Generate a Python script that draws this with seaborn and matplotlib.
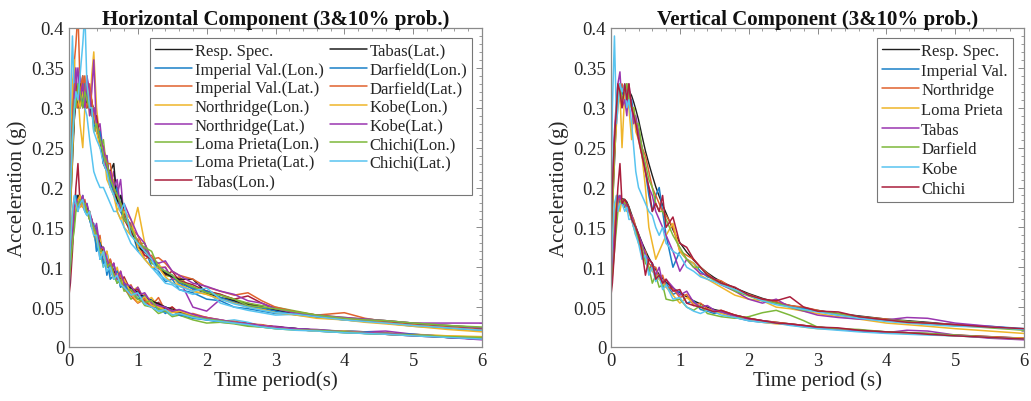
import matplotlib
matplotlib.use("Agg")
import matplotlib.pyplot as plt
from matplotlib.ticker import MultipleLocator
import seaborn as sns

# ---------------- data ----------------
periods = [0, 0.02, 0.05, 0.08, 0.1, 0.13, 0.16, 0.2, 0.23, 0.26, 0.3, 0.33, 0.36, 0.4, 0.45,
           0.5, 0.55, 0.6, 0.65, 0.7, 0.75, 0.8, 0.9, 1.0, 1.1, 1.2, 1.3, 1.4, 1.5, 1.6,
           1.8, 2.0, 2.2, 2.4, 2.6, 2.8, 3.0, 3.3, 3.6, 4.0, 4.3, 4.6, 5.0, 5.5, 6.0]

resp_3 = [0.13, 0.17, 0.23, 0.29, 0.315, 0.325, 0.325, 0.325, 0.325, 0.322, 0.315, 0.307, 0.298, 0.285, 0.265,
          0.246, 0.23, 0.215, 0.201, 0.189, 0.178, 0.168, 0.147, 0.131, 0.119, 0.109, 0.1, 0.093, 0.087, 0.082,
          0.074, 0.067, 0.061, 0.056, 0.052, 0.049, 0.046, 0.042, 0.039, 0.035, 0.033, 0.031, 0.028, 0.025, 0.022]
resp_10 = [0.07, 0.1, 0.14, 0.172, 0.183, 0.186, 0.186, 0.185, 0.182, 0.176, 0.166, 0.158, 0.151, 0.142, 0.131,
           0.121, 0.112, 0.104, 0.097, 0.091, 0.086, 0.081, 0.074, 0.068, 0.063, 0.058, 0.054, 0.05, 0.047, 0.045,
           0.04, 0.036, 0.033, 0.031, 0.029, 0.027, 0.025, 0.023, 0.021, 0.019, 0.018, 0.017, 0.015, 0.013, 0.011]

# Horizontal component, 3% probability
h3_imp_lon = [0.12, 0.2, 0.27, 0.31, 0.3, 0.33, 0.31, 0.34, 0.3, 0.33, 0.31, 0.29, 0.3, 0.27, 0.27, 0.23, 0.24, 0.2, 0.21, 0.18, 0.19, 0.16, 0.15, 0.12, 0.125, 0.1,
              0.095, 0.082, 0.085, 0.072, 0.068, 0.06, 0.058, 0.05, 0.048, 0.045, 0.042, 0.041, 0.04, 0.034, 0.034, 0.03, 0.029, 0.025, 0.023]
h3_imp_lat = [0.14, 0.22, 0.3, 0.36, 0.38, 0.42, 0.33, 0.31, 0.34, 0.3, 0.32, 0.3, 0.28, 0.29, 0.25, 0.25, 0.22, 0.22, 0.19, 0.2, 0.17, 0.165, 0.14, 0.135, 0.11, 0.115, 0.1, 0.1, 0.085, 0.088, 0.072, 0.07, 0.066, 0.057, 0.055, 0.05, 0.045, 0.043, 0.04, 0.043, 0.036, 0.032, 0.029, 0.024, 0.021]
h3_nor_lon = [0.15, 0.25, 0.33, 0.36, 0.3, 0.32, 0.28, 0.25, 0.3, 0.33, 0.29, 0.34, 0.37, 0.3, 0.26, 0.25, 0.22, 0.2, 0.21, 0.17, 0.18, 0.15, 0.14, 0.175, 0.13, 0.11, 0.105, 0.09, 0.088, 0.078, 0.07, 0.066, 0.06, 0.058, 0.05, 0.048, 0.044, 0.043, 0.038, 0.036, 0.032, 0.031, 0.027, 0.024, 0.02]
h3_nor_lat = [0.13, 0.2, 0.28, 0.33, 0.35, 0.31, 0.34, 0.32, 0.3, 0.34, 0.29, 0.32, 0.36, 0.27, 0.28, 0.24, 0.24, 0.2, 0.22, 0.19, 0.21, 0.16, 0.155, 0.13, 0.125, 0.11, 0.098, 0.1, 0.085, 0.085, 0.05, 0.045, 0.06, 0.058, 0.052, 0.05, 0.046, 0.043, 0.04, 0.036, 0.035, 0.033, 0.03, 0.03, 0.03]
h3_lom_lon = [0.12, 0.18, 0.25, 0.3, 0.32, 0.3, 0.33, 0.31, 0.33, 0.3, 0.32, 0.3, 0.29, 0.28, 0.25, 0.26, 0.22, 0.22, 0.2, 0.19, 0.17, 0.17, 0.14, 0.13, 0.13, 0.105,
              0.1, 0.09, 0.088, 0.085, 0.074, 0.07, 0.065, 0.06, 0.055, 0.052, 0.05, 0.045, 0.04, 0.037, 0.035, 0.033, 0.03, 0.027, 0.024]
h3_lom_lat = [0.16, 0.3, 0.39, 0.3, 0.31, 0.33, 0.3, 0.32, 0.3, 0.29, 0.26, 0.24, 0.22, 0.21, 0.2, 0.2, 0.19, 0.18, 0.17, 0.17, 0.16, 0.15, 0.13, 0.12, 0.11, 0.1,
              0.09, 0.08, 0.078, 0.072, 0.066, 0.07, 0.055, 0.05, 0.046, 0.043, 0.04, 0.041, 0.037, 0.034, 0.032, 0.03, 0.027, 0.024, 0.021]
h3_tab_lon = [0.11, 0.19, 0.26, 0.3, 0.33, 0.31, 0.3, 0.33, 0.31, 0.32, 0.3, 0.31, 0.28, 0.29, 0.26, 0.24, 0.23, 0.21, 0.2, 0.18, 0.18, 0.16, 0.145, 0.13, 0.115, 0.11,
              0.1, 0.09, 0.095, 0.083, 0.078, 0.07, 0.066, 0.06, 0.064, 0.055, 0.048, 0.044, 0.038, 0.035, 0.033, 0.03, 0.028, 0.025, 0.022]
h3_tab_lat = [0.12, 0.19, 0.25, 0.29, 0.32, 0.3, 0.33, 0.3, 0.32, 0.3, 0.31, 0.29, 0.3, 0.27, 0.26, 0.23, 0.22, 0.22, 0.23, 0.18, 0.19, 0.17, 0.15, 0.125, 0.12, 0.11, 0.1, 0.092, 0.088, 0.085, 0.085, 0.068, 0.062, 0.058, 0.053, 0.05, 0.046, 0.042, 0.038, 0.036, 0.034, 0.031, 0.029, 0.025, 0.022]
h3_dar_lon = [0.13, 0.2, 0.26, 0.3, 0.31, 0.32, 0.3, 0.31, 0.33, 0.31, 0.3, 0.3, 0.28, 0.27, 0.27, 0.24, 0.22, 0.21, 0.19, 0.2, 0.17, 0.16, 0.15, 0.13, 0.12, 0.11, 0.1, 0.095, 0.09, 0.08, 0.073, 0.07, 0.062, 0.056, 0.05, 0.049, 0.045, 0.04, 0.038, 0.034, 0.032, 0.03, 0.026, 0.024, 0.021]
h3_dar_lat = [0.14, 0.21, 0.28, 0.33, 0.31, 0.3, 0.32, 0.34, 0.31, 0.3, 0.33, 0.31, 0.29, 0.28, 0.26, 0.25, 0.23, 0.23, 0.2, 0.19, 0.18, 0.17, 0.15, 0.14, 0.12, 0.11,
              0.112, 0.105, 0.095, 0.09, 0.085, 0.075, 0.07, 0.065, 0.068, 0.058, 0.05, 0.044, 0.04, 0.035, 0.034, 0.031, 0.028, 0.025, 0.022]
h3_kob_lon = [0.1, 0.17, 0.24, 0.3, 0.32, 0.31, 0.3, 0.32, 0.31, 0.34, 0.3, 0.3, 0.3, 0.27, 0.25, 0.25, 0.21, 0.2, 0.19, 0.17, 0.16, 0.17, 0.16, 0.125, 0.11, 0.1, 0.1, 0.088, 0.08, 0.078, 0.07, 0.066, 0.06, 0.055, 0.05, 0.047, 0.043, 0.04, 0.036, 0.034, 0.031, 0.029, 0.026, 0.022, 0.019]
h3_kob_lat = [0.12, 0.2, 0.27, 0.32, 0.33, 0.35, 0.31, 0.33, 0.3, 0.34, 0.32, 0.29, 0.3, 0.28, 0.26, 0.25, 0.22, 0.22, 0.2, 0.21, 0.17, 0.18, 0.16, 0.14, 0.13, 0.11,
              0.105, 0.108, 0.095, 0.09, 0.08, 0.076, 0.07, 0.066, 0.058, 0.055, 0.048, 0.042, 0.04, 0.037, 0.035, 0.033, 0.03, 0.027, 0.024]
h3_chi_lon = [0.13, 0.19, 0.27, 0.31, 0.3, 0.33, 0.32, 0.3, 0.32, 0.31, 0.3, 0.3, 0.27, 0.28, 0.26, 0.24, 0.23, 0.21, 0.2, 0.19, 0.18, 0.16, 0.15, 0.13, 0.125, 0.12, 0.1, 0.095, 0.09, 0.082, 0.076, 0.068, 0.065, 0.06, 0.052, 0.05, 0.048, 0.044, 0.04, 0.036, 0.034, 0.033, 0.03, 0.027, 0.025]
h3_chi_lat = [0.14, 0.2, 0.26, 0.3, 0.32, 0.31, 0.34, 0.38, 0.42, 0.33, 0.3, 0.3, 0.27, 0.26, 0.25, 0.23, 0.22, 0.2, 0.19, 0.18, 0.17, 0.18, 0.14, 0.13, 0.12, 0.11,
              0.092, 0.085, 0.08, 0.076, 0.07, 0.074, 0.06, 0.054, 0.05, 0.046, 0.043, 0.041, 0.038, 0.034, 0.032, 0.03, 0.027, 0.024, 0.021]

# Horizontal component, 10% probability
h10_imp_lon = [0.07, 0.12, 0.16, 0.18, 0.19, 0.17, 0.185, 0.18, 0.17, 0.18, 0.16, 0.15, 0.145,
               0.15, 0.11, 0.125, 0.09, 0.105, 0.085, 0.095, 0.075, 0.085, 0.065, 0.07, 0.055, 0.06, 0.05, 0.042, 0.048, 0.04,
               0.036, 0.034, 0.031, 0.03, 0.028, 0.026, 0.024, 0.022, 0.02, 0.018, 0.017, 0.016, 0.014, 0.012, 0.01]
h10_imp_lat = [0.08, 0.13, 0.17, 0.19, 0.18, 0.19, 0.18, 0.175, 0.185, 0.17, 0.17, 0.155, 0.15,
               0.125, 0.14, 0.105, 0.12, 0.09, 0.105, 0.08, 0.095, 0.072, 0.078, 0.06, 0.066, 0.052, 0.062, 0.045, 0.05, 0.04,
               0.042, 0.037, 0.034, 0.03, 0.029, 0.027, 0.025, 0.022, 0.02, 0.019, 0.018, 0.017, 0.015, 0.013, 0.011]
h10_nor_lon = [0.08, 0.12, 0.15, 0.17, 0.18, 0.19, 0.175, 0.18, 0.18, 0.175, 0.165, 0.16, 0.15,
               0.13, 0.135, 0.115, 0.12, 0.1, 0.09, 0.1, 0.08, 0.085, 0.07, 0.075, 0.058, 0.062, 0.05, 0.046, 0.05, 0.042,
               0.04, 0.036, 0.033, 0.032, 0.029, 0.027, 0.025, 0.023, 0.021, 0.02, 0.019, 0.018, 0.016, 0.014, 0.012]
h10_nor_lat = [0.07, 0.11, 0.15, 0.18, 0.19, 0.18, 0.19, 0.175, 0.18, 0.17, 0.17, 0.16, 0.145,
               0.155, 0.125, 0.12, 0.11, 0.095, 0.105, 0.085, 0.088, 0.078, 0.065, 0.075, 0.058, 0.05, 0.055, 0.048, 0.044, 0.046,
               0.04, 0.037, 0.034, 0.031, 0.03, 0.027, 0.026, 0.023, 0.021, 0.02, 0.019, 0.02, 0.016, 0.013, 0.011]
h10_lom_lon = [0.07, 0.1, 0.13, 0.16, 0.18, 0.19, 0.18, 0.185, 0.175, 0.175, 0.16, 0.16, 0.14,
               0.13, 0.12, 0.1, 0.11, 0.09, 0.095, 0.08, 0.085, 0.075, 0.06, 0.065, 0.052, 0.05, 0.042, 0.045, 0.038, 0.04,
               0.034, 0.03, 0.031, 0.029, 0.026, 0.025, 0.023, 0.022, 0.02, 0.018, 0.017, 0.016, 0.015, 0.013, 0.012]
h10_lom_lat = [0.08, 0.12, 0.16, 0.18, 0.175, 0.18, 0.19, 0.18, 0.17, 0.165, 0.165, 0.15, 0.15,
               0.12, 0.13, 0.1, 0.115, 0.09, 0.1, 0.08, 0.09, 0.072, 0.07, 0.062, 0.055, 0.058, 0.045, 0.044, 0.04, 0.042,
               0.038, 0.035, 0.032, 0.034, 0.031, 0.026, 0.024, 0.022, 0.02, 0.019, 0.017, 0.016, 0.015, 0.012, 0.01]
h10_tab_lon = [0.065, 0.08, 0.12, 0.17, 0.2, 0.23, 0.18, 0.185, 0.18, 0.17, 0.165, 0.16, 0.15,
               0.14, 0.125, 0.12, 0.1, 0.11, 0.09, 0.095, 0.08, 0.088, 0.07, 0.072, 0.058, 0.05, 0.056, 0.047, 0.05, 0.043,
               0.04, 0.036, 0.033, 0.031, 0.029, 0.027, 0.025, 0.023, 0.021, 0.019, 0.018, 0.016, 0.014, 0.012, 0.01]
h10_tab_lat = [0.07, 0.1, 0.14, 0.17, 0.18, 0.19, 0.185, 0.18, 0.175, 0.175, 0.165, 0.155, 0.15,
               0.14, 0.13, 0.12, 0.105, 0.105, 0.095, 0.09, 0.085, 0.08, 0.074, 0.068, 0.062, 0.058, 0.054, 0.05, 0.047, 0.044,
               0.04, 0.036, 0.033, 0.031, 0.029, 0.027, 0.025, 0.023, 0.021, 0.019, 0.018, 0.017, 0.015, 0.012, 0.01]
h10_dar_lon = [0.08, 0.12, 0.15, 0.18, 0.19, 0.18, 0.18, 0.19, 0.17, 0.17, 0.16, 0.15, 0.155,
               0.12, 0.13, 0.105, 0.11, 0.085, 0.09, 0.095, 0.075, 0.08, 0.066, 0.06, 0.064, 0.052, 0.048, 0.044, 0.046, 0.04,
               0.039, 0.034, 0.033, 0.03, 0.028, 0.026, 0.024, 0.023, 0.021, 0.02, 0.019, 0.017, 0.016, 0.013, 0.011]
h10_dar_lat = [0.075, 0.11, 0.15, 0.17, 0.18, 0.185, 0.19, 0.18, 0.18, 0.17, 0.16, 0.16, 0.145,
               0.14, 0.12, 0.125, 0.1, 0.11, 0.092, 0.085, 0.09, 0.073, 0.064, 0.055, 0.06, 0.05, 0.052, 0.045, 0.046, 0.042,
               0.04, 0.037, 0.033, 0.032, 0.029, 0.028, 0.025, 0.022, 0.021, 0.019, 0.018, 0.016, 0.015, 0.013, 0.011]
h10_kob_lon = [0.09, 0.13, 0.16, 0.18, 0.17, 0.18, 0.19, 0.175, 0.18, 0.17, 0.17, 0.15, 0.15,
               0.135, 0.12, 0.115, 0.11, 0.1, 0.085, 0.092, 0.078, 0.085, 0.068, 0.056, 0.063, 0.052, 0.05, 0.046, 0.043, 0.045,
               0.04, 0.035, 0.034, 0.03, 0.028, 0.027, 0.024, 0.022, 0.02, 0.02, 0.018, 0.017, 0.015, 0.014, 0.013]
h10_kob_lat = [0.07, 0.1, 0.14, 0.175, 0.185, 0.18, 0.18, 0.19, 0.175, 0.18, 0.165, 0.16, 0.15,
               0.145, 0.125, 0.125, 0.11, 0.1, 0.105, 0.085, 0.095, 0.08, 0.076, 0.065, 0.068, 0.055, 0.052, 0.05, 0.045, 0.047,
               0.041, 0.036, 0.034, 0.031, 0.029, 0.027, 0.025, 0.023, 0.022, 0.019, 0.018, 0.017, 0.015, 0.012, 0.009]
h10_chi_lon = [0.08, 0.1, 0.13, 0.15, 0.17, 0.18, 0.185, 0.18, 0.18, 0.17, 0.16, 0.155, 0.15,
               0.14, 0.12, 0.12, 0.1, 0.105, 0.09, 0.08, 0.085, 0.07, 0.072, 0.06, 0.056, 0.058, 0.047, 0.045, 0.04, 0.042,
               0.038, 0.035, 0.033, 0.03, 0.027, 0.025, 0.023, 0.021, 0.021, 0.019, 0.017, 0.016, 0.015, 0.013, 0.012]
h10_chi_lat = [0.09, 0.13, 0.17, 0.19, 0.18, 0.17, 0.18, 0.185, 0.17, 0.165, 0.17, 0.15, 0.14,
               0.14, 0.11, 0.12, 0.095, 0.1, 0.085, 0.09, 0.078, 0.075, 0.065, 0.068, 0.054, 0.05, 0.045, 0.047, 0.04, 0.042,
               0.037, 0.034, 0.032, 0.03, 0.028, 0.025, 0.023, 0.021, 0.02, 0.018, 0.017, 0.016, 0.014, 0.012, 0.01]

# Vertical component, 3% probability
v3_imp = [0.12, 0.2, 0.26, 0.3, 0.31, 0.33, 0.32, 0.31, 0.33, 0.3, 0.31, 0.29, 0.28, 0.27, 0.24, 0.22, 0.19, 0.17, 0.19, 0.2, 0.17, 0.14, 0.1, 0.12, 0.11, 0.105, 0.095, 0.088, 0.085, 0.08, 0.072, 0.065, 0.058, 0.055, 0.052, 0.048, 0.045, 0.04, 0.038, 0.034, 0.032, 0.03, 0.028, 0.026, 0.023]
v3_nor = [0.13, 0.19, 0.25, 0.3, 0.32, 0.31, 0.33, 0.32, 0.3, 0.32, 0.3, 0.3, 0.28, 0.27, 0.25, 0.24, 0.22, 0.2, 0.19, 0.18, 0.17, 0.165, 0.15, 0.12, 0.115, 0.11, 0.1, 0.092, 0.085, 0.083, 0.072, 0.066, 0.06, 0.057, 0.052, 0.05, 0.046, 0.041, 0.038, 0.035, 0.032, 0.03, 0.028, 0.025, 0.022]
v3_lom = [0.1, 0.17, 0.24, 0.28, 0.3, 0.32, 0.25, 0.32, 0.33, 0.3, 0.26, 0.3, 0.27, 0.26, 0.24, 0.2, 0.15, 0.13, 0.11, 0.12, 0.13, 0.14, 0.155, 0.12, 0.11, 0.105, 0.09, 0.085, 0.08, 0.075, 0.065, 0.06, 0.058, 0.05, 0.048, 0.045, 0.042, 0.038, 0.035, 0.03, 0.028, 0.026, 0.023, 0.02, 0.017]
v3_tab = [0.12, 0.2, 0.27, 0.31, 0.33, 0.345, 0.3, 0.31, 0.29, 0.33, 0.3, 0.28, 0.29, 0.27, 0.25, 0.22, 0.2, 0.19, 0.17, 0.16, 0.15, 0.14, 0.12, 0.095, 0.11, 0.1, 0.092, 0.09, 0.085, 0.078, 0.07, 0.06, 0.055, 0.06, 0.05, 0.045, 0.04, 0.037, 0.035, 0.034, 0.037, 0.036, 0.03, 0.026, 0.022]
v3_dar = [0.11, 0.18, 0.25, 0.3, 0.32, 0.33, 0.31, 0.32, 0.33, 0.31, 0.3, 0.3, 0.28, 0.28, 0.25, 0.23, 0.21, 0.2, 0.18, 0.17, 0.17, 0.16, 0.14, 0.125, 0.11, 0.1, 0.1, 0.09, 0.083, 0.08, 0.07, 0.064, 0.058, 0.055, 0.05, 0.046, 0.045, 0.042, 0.038, 0.034, 0.032, 0.03, 0.027, 0.024, 0.021]
v3_kob = [0.15, 0.3, 0.39, 0.28, 0.3, 0.33, 0.32, 0.33, 0.3, 0.31, 0.28, 0.25, 0.22, 0.2, 0.19, 0.18, 0.17, 0.165, 0.15, 0.14, 0.15, 0.13, 0.12, 0.115, 0.1, 0.095, 0.088, 0.085, 0.082, 0.078, 0.072, 0.065, 0.058, 0.053, 0.05, 0.047, 0.044, 0.04, 0.036, 0.032, 0.03, 0.028, 0.026, 0.025, 0.022]
v3_chi = [0.13, 0.2, 0.26, 0.3, 0.33, 0.32, 0.3, 0.33, 0.31, 0.33, 0.3, 0.29, 0.28, 0.26, 0.24, 0.22, 0.2, 0.17, 0.18, 0.17, 0.19, 0.15, 0.163, 0.13, 0.125, 0.11, 0.1, 0.09, 0.085, 0.08, 0.075, 0.065, 0.06, 0.058, 0.063, 0.05, 0.045, 0.044, 0.038, 0.034, 0.031, 0.03, 0.028, 0.025, 0.023]

# Vertical component, 10% probability
v10_imp = [0.08, 0.12, 0.16, 0.18, 0.19, 0.18, 0.185, 0.175, 0.18, 0.17, 0.16, 0.15, 0.145,
           0.135, 0.115, 0.12, 0.095, 0.105, 0.085, 0.09, 0.075, 0.08, 0.066, 0.07, 0.055, 0.058, 0.047, 0.045, 0.042, 0.044,
           0.037, 0.033, 0.031, 0.03, 0.028, 0.026, 0.024, 0.022, 0.02, 0.018, 0.017, 0.016, 0.014, 0.012, 0.01]
v10_nor = [0.07, 0.11, 0.15, 0.18, 0.18, 0.19, 0.18, 0.185, 0.175, 0.17, 0.165, 0.16, 0.15,
           0.14, 0.125, 0.12, 0.105, 0.1, 0.1, 0.085, 0.09, 0.075, 0.073, 0.062, 0.066, 0.052, 0.055, 0.048, 0.045, 0.046,
           0.04, 0.036, 0.033, 0.031, 0.029, 0.027, 0.025, 0.022, 0.02, 0.018, 0.017, 0.016, 0.015, 0.013, 0.011]
v10_lom = [0.09, 0.13, 0.17, 0.19, 0.18, 0.17, 0.185, 0.18, 0.17, 0.17, 0.16, 0.15, 0.14,
           0.14, 0.115, 0.11, 0.1, 0.095, 0.09, 0.085, 0.08, 0.075, 0.065, 0.055, 0.062, 0.055, 0.05, 0.047, 0.045, 0.042,
           0.037, 0.034, 0.031, 0.029, 0.028, 0.025, 0.023, 0.022, 0.02, 0.018, 0.017, 0.016, 0.014, 0.012, 0.011]
v10_tab = [0.07, 0.1, 0.14, 0.17, 0.185, 0.19, 0.18, 0.18, 0.175, 0.17, 0.165, 0.155, 0.15,
           0.14, 0.13, 0.115, 0.11, 0.105, 0.09, 0.1, 0.08, 0.085, 0.075, 0.065, 0.07, 0.056, 0.05, 0.052, 0.046, 0.044,
           0.039, 0.035, 0.033, 0.03, 0.028, 0.026, 0.024, 0.022, 0.02, 0.018, 0.021, 0.02, 0.015, 0.011, 0.009]
v10_dar = [0.07, 0.09, 0.12, 0.15, 0.17, 0.18, 0.185, 0.18, 0.18, 0.175, 0.16, 0.155, 0.15,
           0.13, 0.125, 0.105, 0.1, 0.08, 0.09, 0.075, 0.078, 0.06, 0.058, 0.06, 0.05, 0.046, 0.052, 0.042, 0.04, 0.038,
           0.036, 0.038, 0.043, 0.046, 0.04, 0.033, 0.025, 0.023, 0.022, 0.019, 0.018, 0.017, 0.015, 0.012, 0.01]
v10_kob = [0.09, 0.14, 0.18, 0.19, 0.17, 0.18, 0.18, 0.17, 0.175, 0.16, 0.16, 0.15, 0.14,
           0.13, 0.11, 0.115, 0.09, 0.1, 0.082, 0.09, 0.072, 0.078, 0.06, 0.062, 0.05, 0.045, 0.042, 0.046, 0.044, 0.04,
           0.037, 0.033, 0.031, 0.03, 0.027, 0.025, 0.023, 0.021, 0.019, 0.017, 0.016, 0.015, 0.014, 0.012, 0.01]
v10_chi = [0.065, 0.08, 0.12, 0.17, 0.2, 0.23, 0.18, 0.185, 0.18, 0.175, 0.16, 0.155, 0.15,
           0.14, 0.12, 0.09, 0.11, 0.105, 0.085, 0.09, 0.08, 0.085, 0.07, 0.072, 0.055, 0.052, 0.05, 0.047, 0.044, 0.046,
           0.04, 0.036, 0.033, 0.03, 0.029, 0.027, 0.025, 0.024, 0.021, 0.019, 0.018, 0.016, 0.014, 0.012, 0.01]

h_labels = ["Imperial Val.(Lon.)", "Imperial Val.(Lat.)", "Northridge(Lon.)", "Northridge(Lat.)",
            "Loma Prieta(Lon.)", "Loma Prieta(Lat.)", "Tabas(Lon.)", "Tabas(Lat.)",
            "Darfield(Lon.)", "Darfield(Lat.)", "Kobe(Lon.)", "Kobe(Lat.)",
            "Chichi(Lon.)", "Chichi(Lat.)"]
v_labels = ["Imperial Val.", "Northridge", "Loma Prieta", "Tabas", "Darfield", "Kobe", "Chichi"]

# ---------------- style ----------------
c_blue, c_orange, c_yellow = "#1A80C8", "#E0622E", "#EFB52A"
c_purple, c_green, c_cyan, c_red = "#9A36B0", "#7DB83A", "#58C4F0", "#AA1E3C"
c_black = "#1E1E1E"
h_colors = [c_blue, c_orange, c_yellow, c_purple, c_green, c_cyan, c_red,
            c_black, c_blue, c_orange, c_yellow, c_purple, c_green, c_cyan]
v_colors = [c_blue, c_orange, c_yellow, c_purple, c_green, c_cyan, c_red]

h3_series = [h3_imp_lon, h3_imp_lat, h3_nor_lon, h3_nor_lat, h3_lom_lon, h3_lom_lat, h3_tab_lon,
             h3_tab_lat, h3_dar_lon, h3_dar_lat, h3_kob_lon, h3_kob_lat, h3_chi_lon, h3_chi_lat]
h10_series = [h10_imp_lon, h10_imp_lat, h10_nor_lon, h10_nor_lat, h10_lom_lon, h10_lom_lat, h10_tab_lon,
              h10_tab_lat, h10_dar_lon, h10_dar_lat, h10_kob_lon, h10_kob_lat, h10_chi_lon, h10_chi_lat]
v3_series = [v3_imp, v3_nor, v3_lom, v3_tab, v3_dar, v3_kob, v3_chi]
v10_series = [v10_imp, v10_nor, v10_lom, v10_tab, v10_dar, v10_kob, v10_chi]

sns.set_theme(style="white")
plt.rcParams["font.family"] = ["Liberation Serif", "DejaVu Serif"]

txt = "#262626"
spine_c = "#8a8a8a"

fig = plt.figure(figsize=(10.31, 4.02), dpi=100)
W, H = 1031, 402
ax1 = fig.add_axes([69 / W, 1 - 348 / H, 413 / W, 319 / H])
ax2 = fig.add_axes([611 / W, 1 - 348 / H, 413 / W, 319 / H])


def draw(ax, s3, s10, labels, colors, title, xlabel, ncol, bbox, lspace):
    sns.lineplot(x=periods, y=resp_3, ax=ax, color=c_black, lw=1.0, label="Resp. Spec.")
    sns.lineplot(x=periods, y=resp_10, ax=ax, color=c_black, lw=1.0)
    for vals3, vals10, lab, col in zip(s3, s10, labels, colors):
        sns.lineplot(x=periods, y=vals3, ax=ax, color=col, lw=1.1, label=lab)
        sns.lineplot(x=periods, y=vals10, ax=ax, color=col, lw=1.1)
    h, l = ax.get_legend_handles_labels()
    order = [l.index("Resp. Spec.")] + [l.index(x) for x in labels]
    leg = ax.legend([h[i] for i in order], [l[i] for i in order], ncol=ncol,
                    loc="upper right", bbox_to_anchor=bbox, fontsize=12,
                    frameon=True, fancybox=False, framealpha=1, edgecolor="#777777",
                    handlelength=2.2, handletextpad=0.15, columnspacing=0.4,
                    labelspacing=lspace, borderpad=0.3, borderaxespad=0.0)
    leg.get_frame().set_linewidth(0.8)
    for t in leg.get_texts():
        t.set_color(txt)
    ax.set_xlim(0, 6)
    ax.set_ylim(0, 0.4)
    ax.set_xticks([0, 1, 2, 3, 4, 5, 6])
    ax.set_yticks([0, 0.05, 0.1, 0.15, 0.2, 0.25, 0.3, 0.35, 0.4])
    ax.set_yticklabels(["0", "0.05", "0.1", "0.15", "0.2", "0.25", "0.3", "0.35", "0.4"])
    ax.xaxis.set_minor_locator(MultipleLocator(0.2))
    ax.yaxis.set_minor_locator(MultipleLocator(0.01))
    ax.tick_params(which="both", direction="in", top=True, right=True, colors=spine_c,
                   labelcolor=txt, labelsize=13.5)
    ax.tick_params(which="major", length=4, width=0.7)
    ax.tick_params(which="minor", length=2, width=0.6)
    for sp in ax.spines.values():
        sp.set_color(spine_c)
        sp.set_linewidth(0.9)
    ax.set_title(title, fontsize=15, fontweight="bold", color="#111111", pad=3)
    ax.set_xlabel(xlabel, fontsize=15, color=txt, labelpad=1)
    ax.set_ylabel("Acceleration (g)", fontsize=15, color=txt, labelpad=3)


draw(ax1, h3_series, h10_series, h_labels, h_colors,
     "Horizontal Component (3&10% prob.)", "Time period(s)", 2, (0.976, 0.969), 0.16)
draw(ax2, v3_series, v10_series, v_labels, v_colors,
     "Vertical Component (3&10% prob.)", "Time period (s)", 1, (0.973, 0.969), 0.22)

fig.savefig("out.png", dpi=100)
